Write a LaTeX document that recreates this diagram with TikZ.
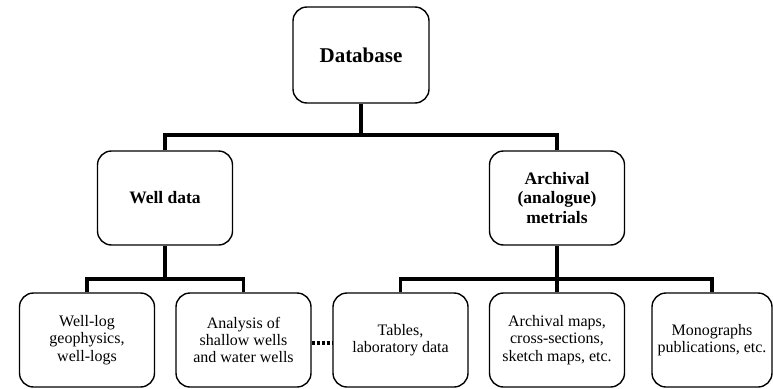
\documentclass[tikz,border=0pt]{standalone}
\usepackage{fontspec}
\setmainfont{Liberation Serif}
\tikzset{
  box/.style = {draw, line width=1.4pt, rounded corners=14pt, align=center,
                minimum width=135pt, minimum height=94pt, inner sep=2pt},
  topbox/.style = {box, minimum width=136pt, minimum height=96pt,
                   font=\fontsize{21}{24}\selectfont\bfseries},
  midbox/.style = {box, font=\fontsize{17.5}{19.5}\selectfont\bfseries},
  leafbox/.style = {box, font=\fontsize{16}{17.2}\selectfont},
  link/.style = {line width=3.8pt},
  dashlink/.style = {line width=4.5pt, dash pattern=on 3.6pt off 1.4pt}
}
\begin{document}
\begin{tikzpicture}[x=1pt,y=1pt]
\useasboundingbox (0,0) rectangle (773,-388);
% top level
\node[topbox] (db) at (361,-55) {Database};
% second level
\node[midbox] (well) at (165,-198) {Well data};
\node[midbox] (arch) at (557,-198) {Archival\\(analogue)\\metrials};
% leaves
\node[leafbox] (logs) at (87,-340) {Well-log\\geophysics,\\well-logs};
\node[leafbox] (shallow) at (243.5,-340) {Analysis of\\shallow wells\\and water wells};
\node[leafbox] (tables) at (400.5,-340) {Tables,\\laboratory data};
\node[leafbox] (maps) at (557,-340) {Archival maps,\\cross-sections,\\sketch maps, etc.};
\node[leafbox, minimum width=120pt] (mono) at (712,-340) {Monographs\\publications, etc.};
% junctions
\coordinate (jdb) at (361,-135);
\coordinate (jwell) at (165,-279);
\coordinate (jarch) at (557,-279);
% connectors
\draw[link] (db.south) -- (jdb) -| (well.north);
\draw[link] (jdb) -| (arch.north);
\draw[link] (well.south) -- (jwell) -| (logs.north);
\draw[link] (jwell) -| (shallow.north);
\draw[link] (arch.south) -- (jarch) -| (tables.north);
\draw[link] (jarch) -- (maps.north);
\draw[link] (jarch) -| (mono.north);
\draw[dashlink] ([yshift=-3pt]shallow.east) -- ([yshift=-3pt]tables.west);
\end{tikzpicture}
\end{document}
